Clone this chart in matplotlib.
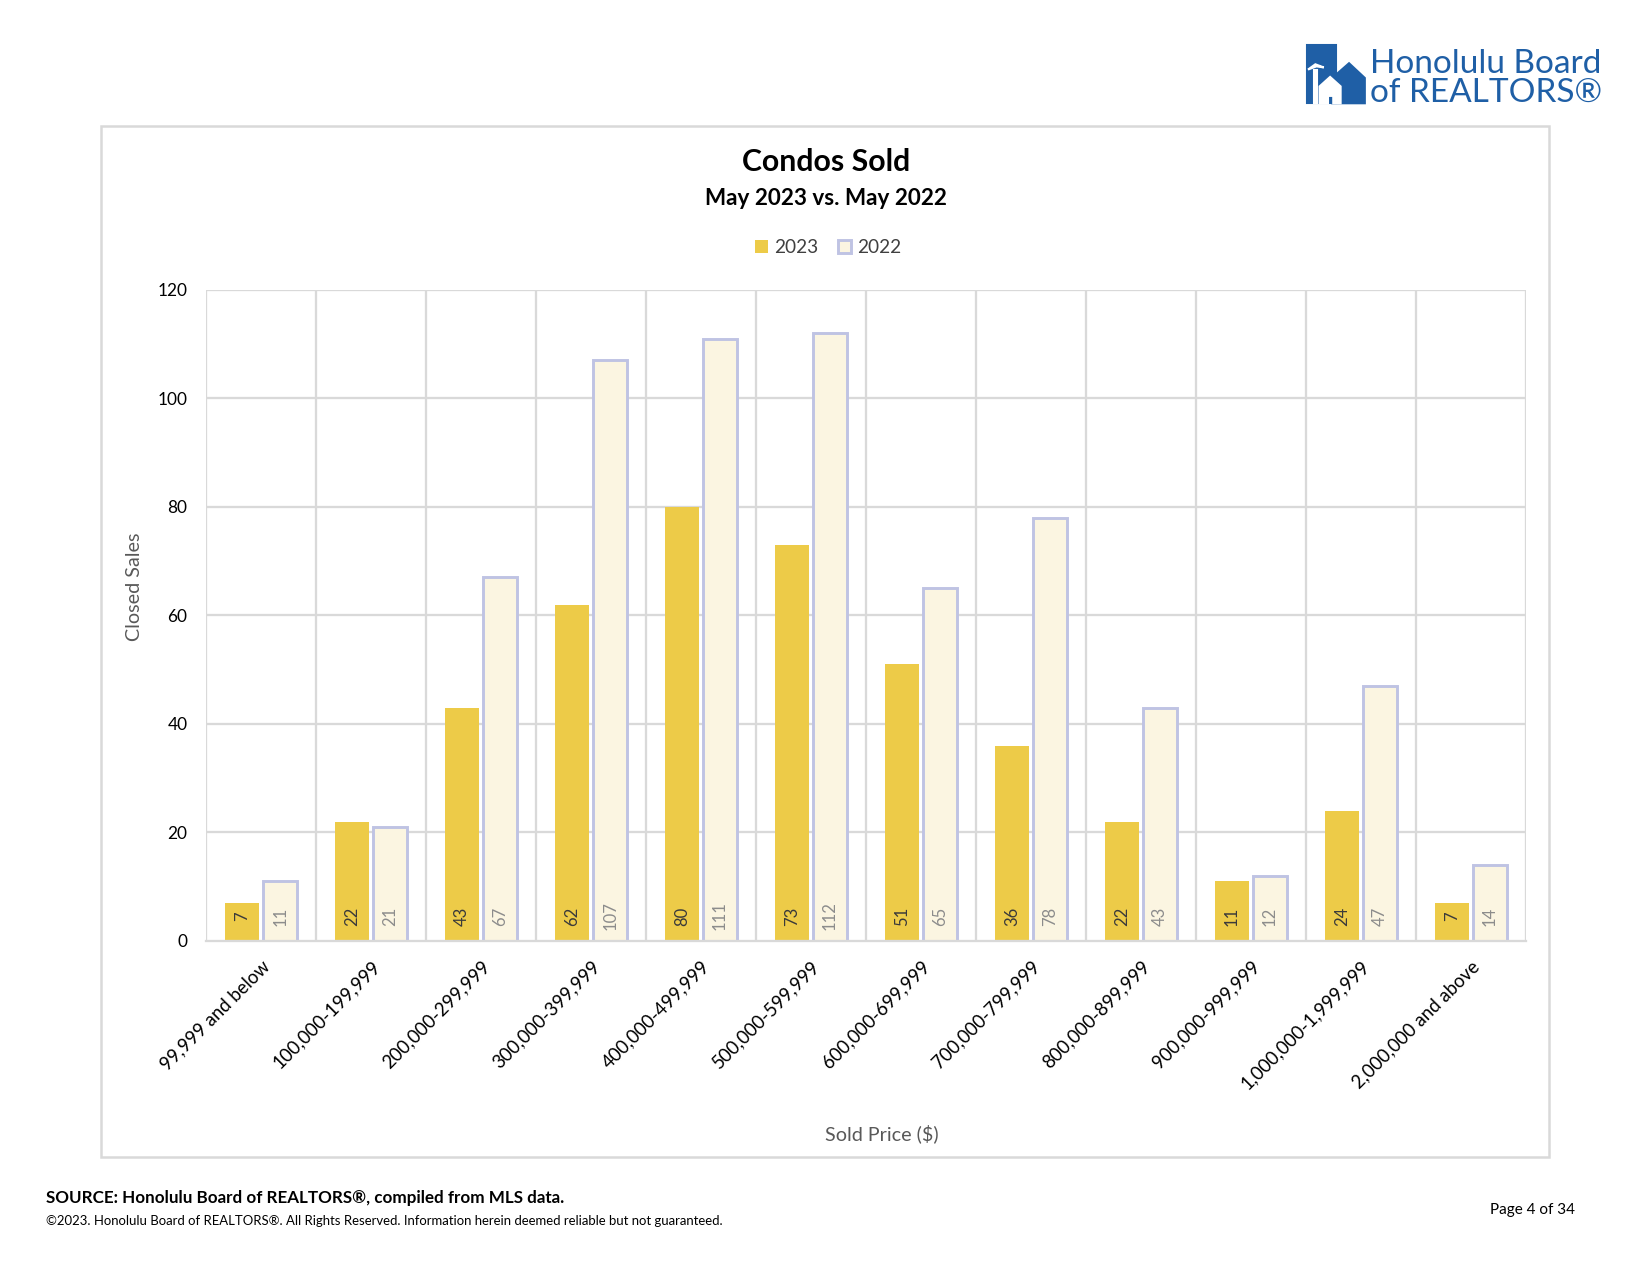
import matplotlib
matplotlib.use("Agg")
import matplotlib.pyplot as plt
import numpy as np
from matplotlib.patches import Rectangle, Polygon

plt.rcParams['font.family'] = ['Lato', 'DejaVu Sans']

categories = ["99,999 and below", "100,000-199,999", "200,000-299,999", "300,000-399,999",
              "400,000-499,999", "500,000-599,999", "600,000-699,999", "700,000-799,999",
              "800,000-899,999", "900,000-999,999", "1,000,000-1,999,999", "2,000,000 and above"]
sales_2023 = [7, 22, 43, 62, 80, 73, 51, 36, 22, 11, 24, 7]
sales_2022 = [11, 21, 67, 107, 111, 112, 65, 78, 43, 12, 47, 14]
yticks = [0, 20, 40, 60, 80, 100, 120]

# layout reference grid (page units)
W, H = 1568, 1210
fig = plt.figure(figsize=(11, 8.5), dpi=150)

def fx(x): return x / W
def fy(y): return 1 - y / H

# outer frame
fig.patches.append(Rectangle((fx(96), fy(1098)), fx(1472) - fx(96), fy(120) - fy(1098),
                             transform=fig.transFigure, fill=False, edgecolor='#D9D9D9', lw=1.2))

ax = fig.add_axes([fx(196), fy(893), fx(1450) - fx(196), fy(275) - fy(893)])
n = len(categories)
x = np.arange(n)
bw = 0.305
c23 = '#EDCB48'
c22f = '#FBF5E1'
c22e = '#BFC3E3'
ax.bar(x - bw / 2 - 0.02, sales_2023, bw, color=c23, edgecolor=c23, lw=0, zorder=3, label='2023')
ax.bar(x + bw / 2 + 0.02, sales_2022, bw, color=c22f, edgecolor=c22e, lw=1.4, zorder=3, label='2022')

for i in range(n):
    ax.text(x[i] - bw / 2 - 0.02, 4.6, str(sales_2023[i]), rotation=90, ha='center', va='center',
            fontsize=8, color='#3A3A3A', zorder=4)
    ax.text(x[i] + bw / 2 + 0.02, 4.6, str(sales_2022[i]), rotation=90, ha='center', va='center',
            fontsize=8, color='#8C8C8C', zorder=4)

ax.set_xlim(-0.5, n - 0.5)
ax.set_ylim(0, 120)
ax.set_yticks(yticks)
ax.set_yticklabels([str(v) for v in yticks], fontsize=8.3, color='#000000')
ax.set_xticks(x)
ax.set_xticklabels(categories, rotation=45, ha='right', rotation_mode='anchor', fontsize=8.9, color='#000000')
ax.tick_params(axis='both', length=0)
ax.tick_params(axis='y', pad=9)
ax.tick_params(axis='x', pad=8)
for yv in yticks[1:]:
    ax.axhline(yv, color='#D9D9D9', lw=1.1, zorder=1)
for xv in np.arange(-0.5, n + 0.5, 1):
    ax.axvline(xv, color='#D9D9D9', lw=1.1, zorder=1)
for s in ['top', 'right', 'left']:
    ax.spines[s].set_visible(False)
ax.spines['bottom'].set_color('#D9D9D9')
ax.spines['bottom'].set_linewidth(1.1)
ax.spines['bottom'].set_zorder(5)

fig.text(fx(128), fy(557), 'Closed Sales', rotation=90, ha='center', va='center', fontsize=9.5, color='#595959')
fig.text(fx(838), fy(1076), 'Sold Price ($)', ha='center', va='center', fontsize=9.5, color='#595959')

fig.text(fx(785), fy(154), 'Condos Sold', ha='center', va='center', fontsize=14.5, fontweight='bold', color='#000000')
fig.text(fx(785), fy(188), 'May 2023 vs. May 2022', ha='center', va='center', fontsize=10.8, fontweight='bold', color='#000000')

leg = fig.legend(loc='center', bbox_to_anchor=(fx(787), fy(235)), ncol=2, frameon=False,
                 fontsize=9.1, handlelength=0.7, handleheight=0.7, handletextpad=0.35, columnspacing=1.0)
for t in leg.get_texts():
    t.set_color('#404040')

# logo
blue = '#1F5FA6'
fig.patches.append(Rectangle((fx(1242), fy(98)), fx(1270) - fx(1242), fy(43) - fy(98),
                             transform=fig.transFigure, color=blue))
fig.patches.append(Polygon([(fx(1266), fy(98)), (fx(1266), fy(74)), (fx(1282), fy(60)),
                            (fx(1297), fy(74)), (fx(1297), fy(98))], closed=True,
                           transform=fig.transFigure, color=blue))
fig.patches.append(Polygon([(fx(1254), fy(98)), (fx(1254), fy(82)), (fx(1264), fy(73)),
                            (fx(1274), fy(82)), (fx(1274), fy(98)), (fx(1267), fy(98)),
                            (fx(1267), fy(91)), (fx(1262), fy(91)), (fx(1262), fy(98))], closed=True,
                           transform=fig.transFigure, color='white'))
fig.patches.append(Rectangle((fx(1249), fy(98)), fx(1252) - fx(1249), fy(66) - fy(98),
                             transform=fig.transFigure, color='white'))
fig.patches.append(Polygon([(fx(1243), fy(66)), (fx(1250), fy(61)), (fx(1258), fy(64)),
                            (fx(1251), fy(63))], closed=True, transform=fig.transFigure, color='white'))
fig.text(fx(1302), fy(61), 'Honolulu Board', ha='left', va='center', fontsize=16, color=blue)
fig.text(fx(1302), fy(88), 'of REALTORS®', ha='left', va='center', fontsize=16, color=blue)

# footer
fig.text(fx(44), fy(1137), 'SOURCE: Honolulu Board of REALTORS®, compiled from MLS data.', ha='left', va='center',
         fontsize=8.2, fontweight='bold', color='#000000')
fig.text(fx(44), fy(1159), '©2023. Honolulu Board of REALTORS®. All Rights Reserved. Information herein deemed reliable but not guaranteed.',
         ha='left', va='center', fontsize=6.3, color='#000000')
fig.text(fx(1497), fy(1148), 'Page 4 of 34', ha='right', va='center', fontsize=7.3, color='#000000')

fig.savefig('out.png', dpi=150)
